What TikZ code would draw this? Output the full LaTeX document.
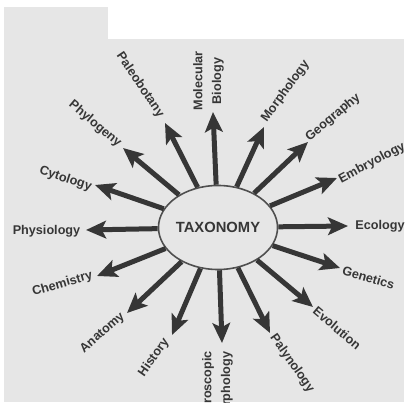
\documentclass[tikz,border=0pt]{standalone}
\usepackage{fontspec}
\setmainfont{Liberation Sans}
\usepackage{xcolor}
\usepackage{tikz}
\usetikzlibrary{arrows.meta,shapes.geometric}
\definecolor{Paper}{HTML}{E6E6E6}
\definecolor{Ink}{HTML}{363636}
\definecolor{Rim}{HTML}{4F4F4F}

\begin{document}
\begin{tikzpicture}[x=0.25mm,y=-0.25mm,
    ray/.style={Ink,line width=1.25mm,-{Stealth[length=5mm,width=4.4mm,inset=1.1mm]}},
    lbl/.style={text=Ink,font=\bfseries\fontsize{9}{13.5}\selectfont,inner sep=0pt}]
  \useasboundingbox (0,0) rectangle (404,418);
  \fill[Paper] (4,39) rectangle (404,402);
  \fill[Paper] (4,7) rectangle (108,40);
  \node[ellipse,draw=Rim,line width=0.4mm,fill=Paper,minimum width=23.5mm,minimum height=21mm,inner sep=0pt,
    text=Ink,font=\bfseries\fontsize{10.5}{12}\selectfont] (tax) at (218,227.5) {TAXONOMY};
  \coordinate (tEco) at (348,226);
  \coordinate (tGen) at (340,268);
  \coordinate (tEvo) at (313,307);
  \coordinate (tPal) at (270,333);
  \coordinate (tMic) at (222,343);
  \coordinate (tHis) at (172,335);
  \coordinate (tAna) at (127,313);
  \coordinate (tChe) at (97,276);
  \coordinate (tPhs) at (86,230);
  \coordinate (tCyt) at (95,185);
  \coordinate (tPhy) at (123,148);
  \coordinate (tPab) at (165,123);
  \coordinate (tMol) at (213,112);
  \coordinate (tMor) at (264,127);
  \coordinate (tGeo) at (308,142);
  \coordinate (tEmb) at (337,178);
  \foreach \t in {tEco,tGen,tEvo,tPal,tMic,tHis,tAna,tChe,tPhs,tCyt,tPhy,tPab,tMol,tMor,tGeo,tEmb}
    \draw[ray] (tax) -- (\t);
  \node[lbl] (ecology) at (380,226) {Ecology};
  \node[lbl,rotate=-16] (genetics) at (368.5,277.5) {Genetics};
  \node[lbl,rotate=-40] (evolution) at (337,328) {Evolution};
  \node[lbl,rotate=-55] (palynology) at (292,363.5) {Palynology};
  \begin{scope}
    \clip (4,39) rectangle (404,402);
    \node[lbl,rotate=90,align=center] (micmorph) at (217.5,388) {Microscopic\\Morphology};
  \end{scope}
  \node[lbl,rotate=55] (history) at (154,357.5) {History};
  \node[lbl,rotate=41] (anatomy) at (102.5,333) {Anatomy};
  \node[lbl,rotate=16] (chemistry) at (62.5,284) {Chemistry};
  \node[lbl] (physiology) at (46.5,231) {Physiology};
  \node[lbl,rotate=-18] (cytology) at (65.5,179) {Cytology};
  \node[lbl,rotate=-40] (phylogeny) at (95,124) {Phylogeny};
  \node[lbl,rotate=-56] (paleobotany) at (140,85) {Paleobotany};
  \node[lbl,rotate=90,align=center] (molbio) at (208.5,81) {Molecular\\Biology};
  \node[lbl,rotate=54] (morphology) at (285.5,91.5) {Morphology};
  \node[lbl,rotate=40] (geography) at (333,117.5) {Geography};
  \node[lbl,rotate=28] (embryology) at (372,163) {Embryology};
\end{tikzpicture}
\end{document}
